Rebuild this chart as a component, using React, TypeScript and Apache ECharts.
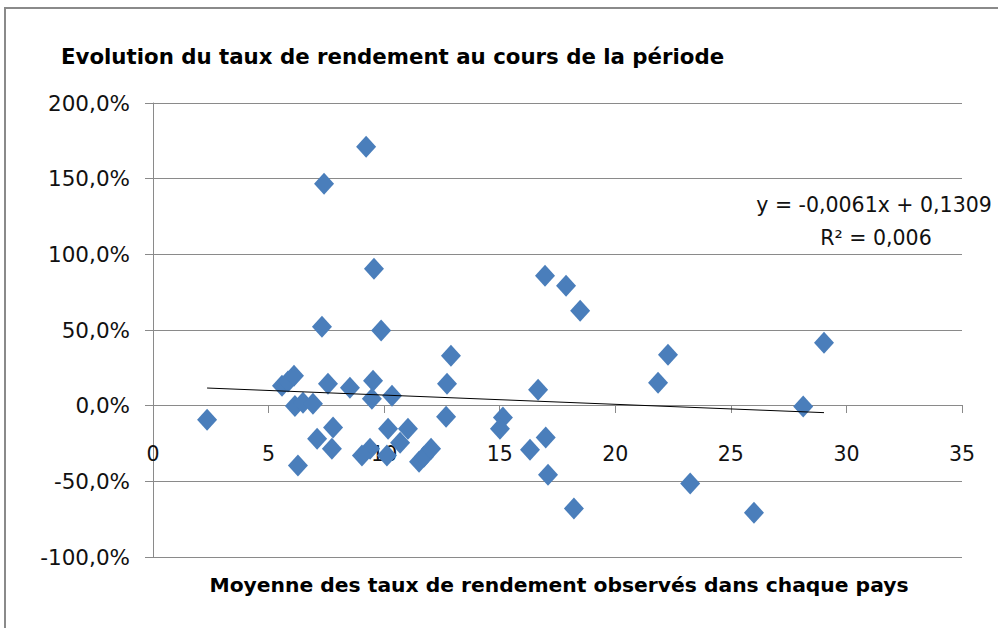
import React, { useEffect, useRef } from "react";
import * as echarts from "echarts";

const chartTitle = "Evolution du taux de rendement au cours de la période";
const xAxisName = "Moyenne des taux de rendement observés dans chaque pays";
const equationLines = ["y = -0,0061x + 0,1309", "R² = 0,006"];
const trendSlope = -0.0061; // fraction per unit
const trendIntercept = 0.1309;

// x: average yield per country; y: evolution of yield (%)
const xValues = [
  2.34, 9.22, 7.4, 9.56, 7.31, 9.87, 16.96, 17.87, 18.48, 22.28, 21.85, 16.66,
  28.13, 29.03, 15.14, 15.01, 16.99, 16.31, 17.09, 18.21, 23.24, 26.0, 12.89,
  12.72, 12.68, 5.58, 5.84, 6.1, 6.14, 6.49, 6.92, 7.57, 8.52, 9.52, 9.47,
  10.34, 7.79, 7.1, 7.74, 6.27, 10.17, 11.03, 9.39, 9.04, 10.12, 10.69, 11.51,
  11.72, 12.03,
];
const yValues = [
  -9.3, 171.1, 146.7, 90.5, 52.2, 49.6, 85.9, 79.3, 62.8, 33.7, 15.2, 10.6,
  -0.5, 41.6, -7.9, -15.2, -21.1, -29.1, -45.6, -68.0, -51.5, -70.7, 33.0,
  14.5, -7.3, 13.2, 15.9, 19.8, -0.3, 2.0, 1.3, 14.5, 11.9, 16.5, 4.6, 6.6,
  -14.5, -21.8, -28.4, -39.6, -15.2, -15.2, -28.4, -33.0, -33.0, -24.5, -37.0,
  -33.7, -28.4,
];
const yTicks = { min: -100, max: 200, interval: 50 };
const xTicks = { min: 0, max: 35, interval: 5 };

export default function App() {
  const ref = useRef<HTMLDivElement>(null);
  useEffect(() => {
    if (!ref.current) return;
    const chart = echarts.init(ref.current, null, { renderer: "svg" });
    const points = xValues.map((x, i) => [x, yValues[i]]);
    const xmin = Math.min(...xValues);
    const xmax = Math.max(...xValues);
    const trend = [
      [xmin, 100 * (trendIntercept + trendSlope * xmin)],
      [xmax, 100 * (trendIntercept + trendSlope * xmax)],
    ];
    const labelFont = "'DejaVu Sans', sans-serif";
    const gray = "#8a8a8a";
    chart.setOption({
      animation: false,
      backgroundColor: "#ffffff",
      title: [
        {
          text: chartTitle,
          left: 56,
          top: 41,
          textStyle: {
            fontFamily: labelFont,
            fontWeight: "bold",
            fontSize: 21.3,
            color: "#000",
          },
        },
        {
          text: xAxisName,
          left: 554,
          top: 570,
          textAlign: "center",
          textStyle: {
            fontFamily: labelFont,
            fontWeight: "bold",
            fontSize: 20.3,
            color: "#000",
          },
        },
      ],
      grid: { left: 153, right: 36, top: 103, bottom: 71, containLabel: false },
      xAxis: {
        type: "value",
        min: xTicks.min,
        max: xTicks.max,
        interval: xTicks.interval,
        offset: -152,
        axisLine: { show: true, onZero: false, lineStyle: { color: gray, width: 1 } },
        axisTick: { show: true, length: 8, lineStyle: { color: gray } },
        splitLine: { show: false },
        axisLabel: {
          margin: 38,
          fontFamily: labelFont,
          fontSize: 20.5,
          color: "#111",
        },
      },
      yAxis: {
        type: "value",
        min: yTicks.min,
        max: yTicks.max,
        interval: yTicks.interval,
        axisLine: { show: true, lineStyle: { color: gray, width: 1 } },
        axisTick: { show: true, length: 8, lineStyle: { color: gray } },
        splitLine: { show: true, lineStyle: { color: gray, width: 1 } },
        axisLabel: {
          margin: 23,
          fontFamily: labelFont,
          fontSize: 21.5,
          color: "#111",
          formatter: (v: number) => v.toFixed(1).replace(".", ",") + "%",
        },
      },
      series: [
        {
          type: "scatter",
          data: points,
          symbol: "diamond",
          symbolSize: [20, 22],
          itemStyle: { color: "#4A7EBB", opacity: 1 },
          z: 3,
        },
        {
          type: "line",
          data: trend,
          showSymbol: false,
          symbol: "none",
          lineStyle: { color: "#000", width: 1 },
          z: 4,
        },
      ],
      graphic: [
        {
          type: "rect",
          shape: { x: 5, y: 8, width: 1020, height: 700 },
          style: { fill: "none", stroke: "#8a8a8a", lineWidth: 2 },
          silent: true,
        },
        {
          type: "text",
          x: 874,
          y: 205,
          style: {
            text: equationLines[0],
            fontFamily: labelFont,
            fontSize: 20.5,
            fill: "#111",
            textAlign: "center",
            textVerticalAlign: "middle",
          },
        },
        {
          type: "text",
          x: 876,
          y: 238,
          style: {
            text: equationLines[1],
            fontFamily: labelFont,
            fontSize: 20.5,
            fill: "#111",
            textAlign: "center",
            textVerticalAlign: "middle",
          },
        },
      ],
    });
    return () => chart.dispose();
  }, []);
  return (
    <div
      ref={ref}
      style={{ position: "fixed", left: 0, top: 0, width: 998, height: 628 }}
    />
  );
}
